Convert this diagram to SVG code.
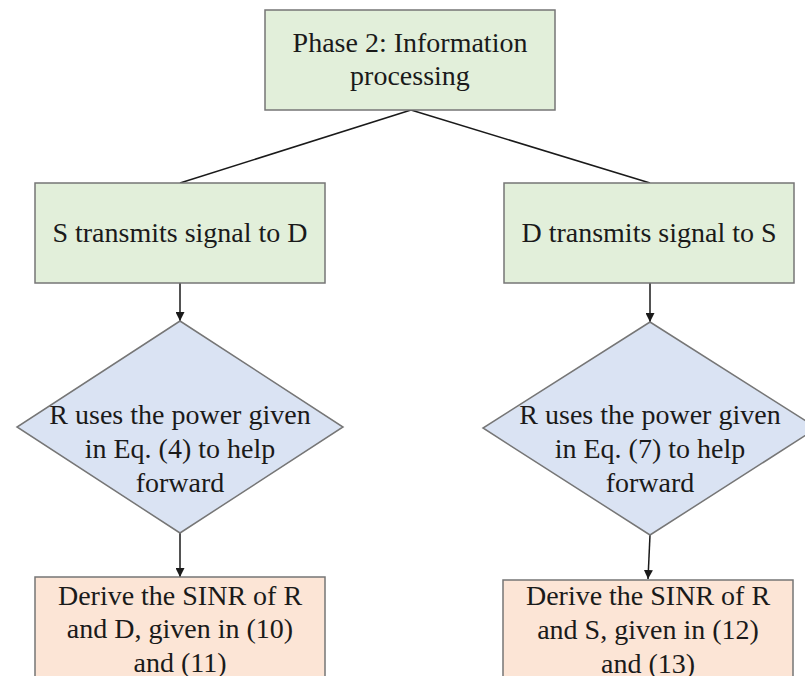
<svg xmlns="http://www.w3.org/2000/svg" width="805" height="676" viewBox="0 0 805 676">
<defs>
<style>
.box{stroke:#767676;stroke-width:1.5}
.g{fill:#e2efda}.b{fill:#dae3f3}.o{fill:#fce5d6}
.c{stroke:#1a1a1a;stroke-width:1.5;fill:none}
</style>
<marker id="ah" viewBox="0 0 10 10" refX="10" refY="5" markerWidth="9" markerHeight="9" markerUnits="userSpaceOnUse" orient="auto"><path d="M0,0L10,5L0,10Z" fill="#1a1a1a"/></marker>
</defs>
<rect width="805" height="676" fill="#fff"/>
<g id="connectors">
<line class="c" x1="411" y1="110" x2="180" y2="183"/>
<line class="c" x1="411" y1="110" x2="650" y2="183"/>
<line class="c" x1="180" y1="283" x2="180" y2="321" marker-end="url(#ah)"/>
<line class="c" x1="650" y1="283" x2="650" y2="322" marker-end="url(#ah)"/>
<line class="c" x1="180" y1="533" x2="180" y2="577" marker-end="url(#ah)"/>
<line class="c" x1="650" y1="535" x2="648" y2="579" marker-end="url(#ah)"/>
</g>
<g font-family="Liberation Serif" font-size="28" fill="#1a1a1a" text-anchor="middle">
<g id="phase2">
<rect class="box g" x="265" y="10" width="290" height="100"/>
<text x="410" y="52" font-family="Liberation Serif">Phase 2: Information</text>
<text x="410" y="85" font-family="Liberation Serif">processing</text>
</g>
<g id="s2d">
<rect class="box g" x="35" y="183" width="290" height="100"/>
<text x="180" y="242" font-family="Liberation Serif">S transmits signal to D</text>
</g>
<g id="d2s">
<rect class="box g" x="504" y="183" width="290" height="100"/>
<text x="649" y="242" font-family="Liberation Serif">D transmits signal to S</text>
</g>
<g id="r4">
<polygon class="box b" points="180,321 343,427 180,533 17,427"/>
<text x="180" y="424" font-family="Liberation Serif">R uses the power given</text>
<text x="180" y="458" font-family="Liberation Serif">in Eq. (4) to help</text>
<text x="180" y="492" font-family="Liberation Serif">forward</text>
</g>
<g id="r7">
<polygon class="box b" points="650,322 817,428 650,535 483,428"/>
<text x="650" y="424" font-family="Liberation Serif">R uses the power given</text>
<text x="650" y="458" font-family="Liberation Serif">in Eq. (7) to help</text>
<text x="650" y="492" font-family="Liberation Serif">forward</text>
</g>
<g id="sinr1">
<rect class="box o" x="35" y="577" width="290" height="110"/>
<text x="180" y="605" font-family="Liberation Serif">Derive the SINR of R</text>
<text x="180" y="638" font-family="Liberation Serif">and D, given in (10)</text>
<text x="180" y="672" font-family="Liberation Serif">and (11)</text>
</g>
<g id="sinr2">
<rect class="box o" x="503" y="580" width="290" height="110"/>
<text x="648" y="605" font-family="Liberation Serif">Derive the SINR of R</text>
<text x="648" y="639" font-family="Liberation Serif">and S, given in (12)</text>
<text x="648" y="673" font-family="Liberation Serif">and (13)</text>
</g>
</g>
</svg>
